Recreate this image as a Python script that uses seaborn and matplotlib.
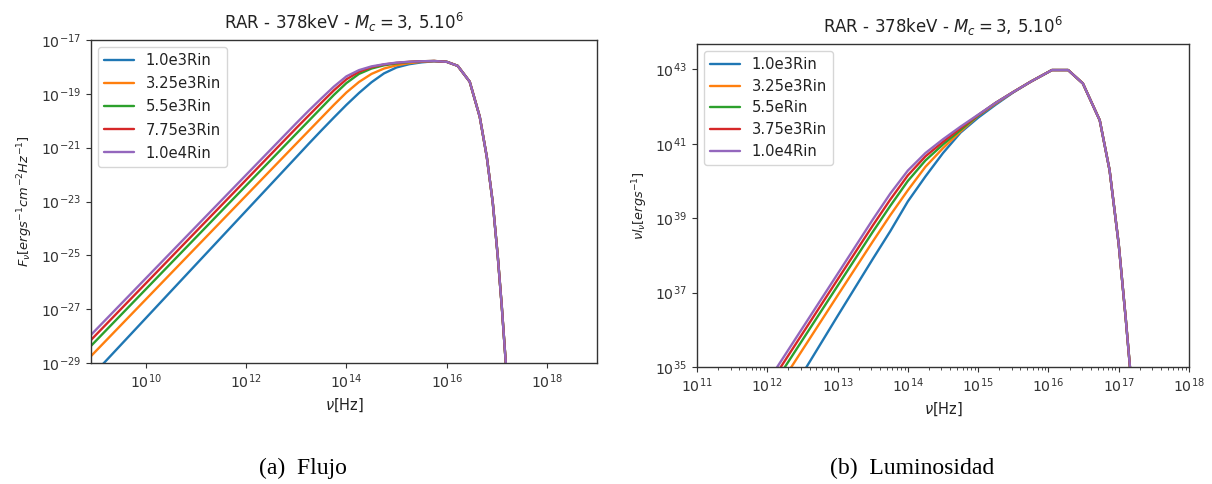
import numpy as np
import pandas as pd
import matplotlib
matplotlib.use("Agg")
import matplotlib.pyplot as plt
from matplotlib.ticker import NullLocator, LogLocator
import seaborn as sns

# ---------------- data (log10 values) ----------------
# Left panel: Flux F_nu vs nu
flux_labels = ["1.0e3Rin", "3.25e3Rin", "5.5e3Rin", "7.75e3Rin", "1.0e4Rin"]

flux_lognu = [8.9, 13.0, 13.25, 13.5, 13.75, 14.0, 14.25, 14.5, 14.75, 15.0, 15.25, 15.5,
              15.75, 16.0, 16.22, 16.46, 16.66, 16.8, 16.92, 17.02, 17.1, 17.18, 17.25]
flux_logF_blue = [-29.52, -21.35, -20.85, -20.36, -19.88, -19.41, -18.97, -18.57, -18.24,
                  -18.02, -17.9, -17.83, -17.79, -17.81, -17.96, -18.55, -19.85, -21.33,
                  -23.04, -25.04, -26.9, -29.0, -31.0]
flux_logF_orange = [-28.75, -20.85, -20.37, -19.89, -19.41, -18.95, -18.56, -18.26, -18.06,
                    -17.94, -17.86, -17.81, -17.78, -17.81, -17.96, -18.55, -19.85, -21.33,
                    -23.04, -25.04, -26.9, -29.0, -31.0]
flux_logF_green = [-28.37, -20.48, -20.0, -19.52, -19.04, -18.6, -18.26, -18.06, -17.94,
                   -17.87, -17.82, -17.79, -17.78, -17.81, -17.96, -18.55, -19.85, -21.33,
                   -23.04, -25.04, -26.9, -29.0, -31.0]
flux_logF_red = [-28.15, -20.27, -19.8, -19.33, -18.87, -18.46, -18.18, -18.01, -17.91,
                 -17.85, -17.81, -17.79, -17.78, -17.81, -17.96, -18.55, -19.85, -21.33,
                 -23.04, -25.04, -26.9, -29.0, -31.0]
flux_logF_purple = [-27.96, -20.09, -19.62, -19.17, -18.73, -18.35, -18.12, -17.98, -17.9,
                    -17.84, -17.81, -17.79, -17.78, -17.81, -17.96, -18.55, -19.85, -21.33,
                    -23.04, -25.04, -26.9, -29.0, -31.0]

# Right panel: nu L_nu vs nu
lum_labels = ["1.0e3Rin", "3.25e3Rin", "5.5eRin", "3.75e3Rin", "1.0e4Rin"]

lum_lognu = [12.0, 13.0, 13.5, 13.75, 14.0, 14.25, 14.5, 14.75, 15.0, 15.25, 15.5, 15.75,
             16.05, 16.28, 16.49, 16.73, 16.87, 17.0, 17.1, 17.16, 17.25]
lum_logL_blue = [33.27, 36.37, 37.9, 38.65, 39.45, 40.12, 40.75, 41.3, 41.7, 42.05, 42.38,
                 42.67, 42.98, 42.98, 42.62, 41.63, 40.29, 38.3, 36.3, 35.0, 33.0]
lum_logL_orange = [34.0, 36.92, 38.37, 39.08, 39.75, 40.38, 40.88, 41.33, 41.75, 42.08, 42.39,
                   42.67, 42.98, 42.98, 42.62, 41.63, 40.29, 38.3, 36.3, 35.0, 33.0]
lum_logL_green = [34.27, 37.18, 38.63, 39.33, 40.0, 40.55, 40.98, 41.37, 41.76, 42.1, 42.39,
                  42.67, 42.98, 42.98, 42.62, 41.63, 40.29, 38.3, 36.3, 35.0, 33.0]
lum_logL_red = [34.44, 37.35, 38.8, 39.5, 40.15, 40.66, 41.05, 41.42, 41.77, 42.1, 42.39,
                42.67, 42.98, 42.98, 42.62, 41.63, 40.29, 38.3, 36.3, 35.0, 33.0]
lum_logL_purple = [34.59, 37.5, 38.96, 39.66, 40.28, 40.75, 41.12, 41.46, 41.78, 42.1, 42.39,
                   42.67, 42.98, 42.98, 42.62, 41.63, 40.29, 38.3, 36.3, 35.0, 33.0]

# ---------------- build tables ----------------
flux_series = [
    (flux_labels[0], flux_lognu, flux_logF_blue),
    (flux_labels[1], flux_lognu, flux_logF_orange),
    (flux_labels[2], flux_lognu, flux_logF_green),
    (flux_labels[3], flux_lognu, flux_logF_red),
    (flux_labels[4], flux_lognu, flux_logF_purple),
]
lum_series = [
    (lum_labels[0], lum_lognu, lum_logL_blue),
    (lum_labels[1], lum_lognu, lum_logL_orange),
    (lum_labels[2], lum_lognu, lum_logL_green),
    (lum_labels[3], lum_lognu, lum_logL_red),
    (lum_labels[4], lum_lognu, lum_logL_purple),
]


def to_df(series):
    rows = []
    for name, lx, ly in series:
        for a, b in zip(lx, ly):
            rows.append({"label": name, "nu": 10.0 ** a, "val": 10.0 ** b})
    return pd.DataFrame(rows)


df_flux = to_df(flux_series)
df_lum = to_df(lum_series)

# ---------------- style ----------------
sns.set_style("ticks")
plt.rcParams["font.family"] = ["DejaVu Sans"]
plt.rcParams["axes.edgecolor"] = "#333333"
plt.rcParams["axes.linewidth"] = 1.0
plt.rcParams["xtick.color"] = "#333333"
plt.rcParams["ytick.color"] = "#333333"
plt.rcParams["text.color"] = "#222222"
plt.rcParams["axes.labelcolor"] = "#222222"
plt.rcParams["mathtext.fontset"] = "dejavusans"

palette = sns.color_palette("tab10", 5)

fig = plt.figure(figsize=(12.12, 4.84), dpi=100)
ax1 = fig.add_axes([91 / 1212, 1 - 363 / 484, 506 / 1212, 323 / 484])
ax2 = fig.add_axes([697 / 1212, 1 - 367 / 484, 492 / 1212, 323 / 484])

title = r"RAR - 378keV - $M_c = 3,\,5.10^6$"

# Left panel
for i, (name, _, _) in enumerate(flux_series):
    sub = df_flux[df_flux["label"] == name]
    sns.lineplot(data=sub, x="nu", y="val", ax=ax1, color=palette[i], label=name,
                 linewidth=1.7, sort=True, estimator=None)
ax1.set_xscale("log")
ax1.set_yscale("log")
ax1.set_xticks([1e10, 1e12, 1e14, 1e16, 1e18])
ax1.set_yticks([1e-29, 1e-27, 1e-25, 1e-23, 1e-21, 1e-19, 1e-17])
ax1.xaxis.set_minor_locator(NullLocator())
ax1.yaxis.set_minor_locator(NullLocator())
ax1.set_xlim(8e8, 1e19)
ax1.set_ylim(1e-29, 1e-17)
ax1.set_xlabel(r"$\nu$[Hz]", fontsize=10.5)
ax1.set_ylabel(r"$F_{\nu}[ergs^{-1}cm^{-2}Hz^{-1}]$", fontsize=9.4)
ax1.set_title(title, fontsize=12, pad=8)
ax1.tick_params(labelsize=10.2)
ax1.legend(loc="upper left", fontsize=10.6, frameon=True, handlelength=2.0,
           labelspacing=0.55)

# Right panel
for i, (name, _, _) in enumerate(lum_series):
    sub = df_lum[df_lum["label"] == name]
    sns.lineplot(data=sub, x="nu", y="val", ax=ax2, color=palette[i], label=name,
                 linewidth=1.7, sort=True, estimator=None)
ax2.set_xscale("log")
ax2.set_yscale("log")
ax2.set_xticks([1e11, 1e12, 1e13, 1e14, 1e15, 1e16, 1e17, 1e18])
ax2.xaxis.set_minor_locator(LogLocator(base=10, subs=np.arange(2, 10), numticks=20))
ax2.set_yticks([1e35, 1e37, 1e39, 1e41, 1e43])
ax2.yaxis.set_minor_locator(NullLocator())
ax2.set_xlim(1e11, 1e18)
ax2.set_ylim(1e35, 10 ** 43.68)
ax2.set_xlabel(r"$\nu$[Hz]", fontsize=10.5)
ax2.set_ylabel(r"$\nu l_{\nu}[ergs^{-1}]$", fontsize=9.2)
ax2.set_title(title, fontsize=12, pad=8)
ax2.tick_params(labelsize=10.2)
ax2.legend(loc="upper left", fontsize=10.6, frameon=True, handlelength=2.0,
           labelspacing=0.45)

# Captions
fig.text(303 / 1212, 1 - 468 / 484, "(a)  Flujo", ha="center", va="center",
         fontsize=17, family="Liberation Serif", color="black")
fig.text(912 / 1212, 1 - 468 / 484, "(b)  Luminosidad", ha="center", va="center",
         fontsize=17, family="Liberation Serif", color="black")

fig.savefig("out.png", dpi=100, facecolor="white")
